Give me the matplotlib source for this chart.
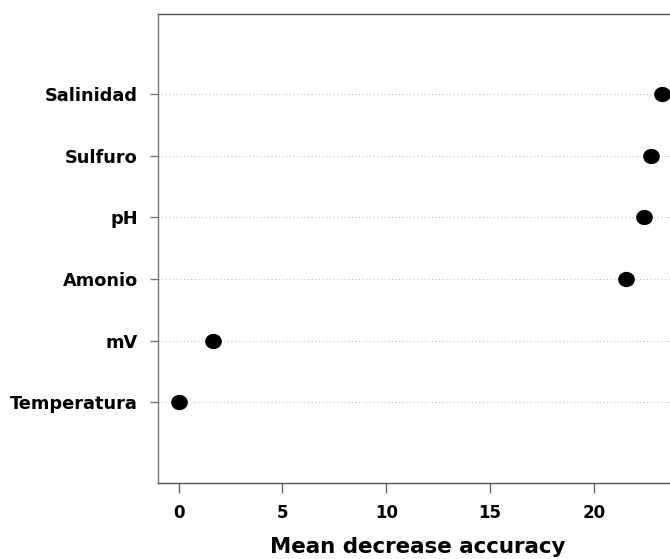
import numpy as np
import matplotlib.pyplot as plt
from matplotlib.path import Path
from matplotlib.transforms import Affine2D

variables = ['Temperatura', 'mV', 'Amonio', 'pH', 'Sulfuro', 'Salinidad']
mean_decrease = [0.0, 1.65, 21.57, 22.41, 22.78, 23.28]
x_ticks = [0, 5, 10, 15, 20]

plt.rcParams['font.family'] = ['DejaVu Sans']

# Punkte leicht in die Breite gezogen wie im Original
dot = Path.unit_circle().transformed(Affine2D().scale(1.1, 1.0))

fig = plt.figure(figsize=(6.7, 5.59), dpi=100)
ax = fig.add_axes([158 / 670, 1 - 483 / 559, 1.01 - 158 / 670, 469 / 559])

y = np.arange(1, len(variables) + 1)
for yi in y:
    ax.axhline(yi, color='#bdbdbd', linestyle=(0, (1, 2.5)), linewidth=0.75, zorder=1)
ax.plot(mean_decrease, y, linestyle='none', marker=dot, color='black', markersize=11, zorder=3)

ax.set_xlim(-1.0, 24.0)
ax.set_ylim(-0.31, 7.3)
ax.set_xticks(x_ticks)
ax.set_yticks(y)
ax.set_yticklabels(variables, fontweight='bold', fontsize=12.8)
ax.set_xticklabels([str(t) for t in x_ticks], fontweight='bold', fontsize=12)
ax.tick_params(axis='x', length=7, width=1, color='#666666', pad=8)
ax.tick_params(axis='y', length=6, width=1, color='#777777', pad=8.5)
ax.set_xlabel('Mean decrease accuracy', fontweight='bold', fontsize=15.4, labelpad=11)

for side in ['left', 'bottom', 'top', 'right']:
    ax.spines[side].set_color('#555555')
    ax.spines[side].set_linewidth(1.0)
ax.spines['left'].set_color('#777777')

plt.savefig('out.png', dpi=100)
